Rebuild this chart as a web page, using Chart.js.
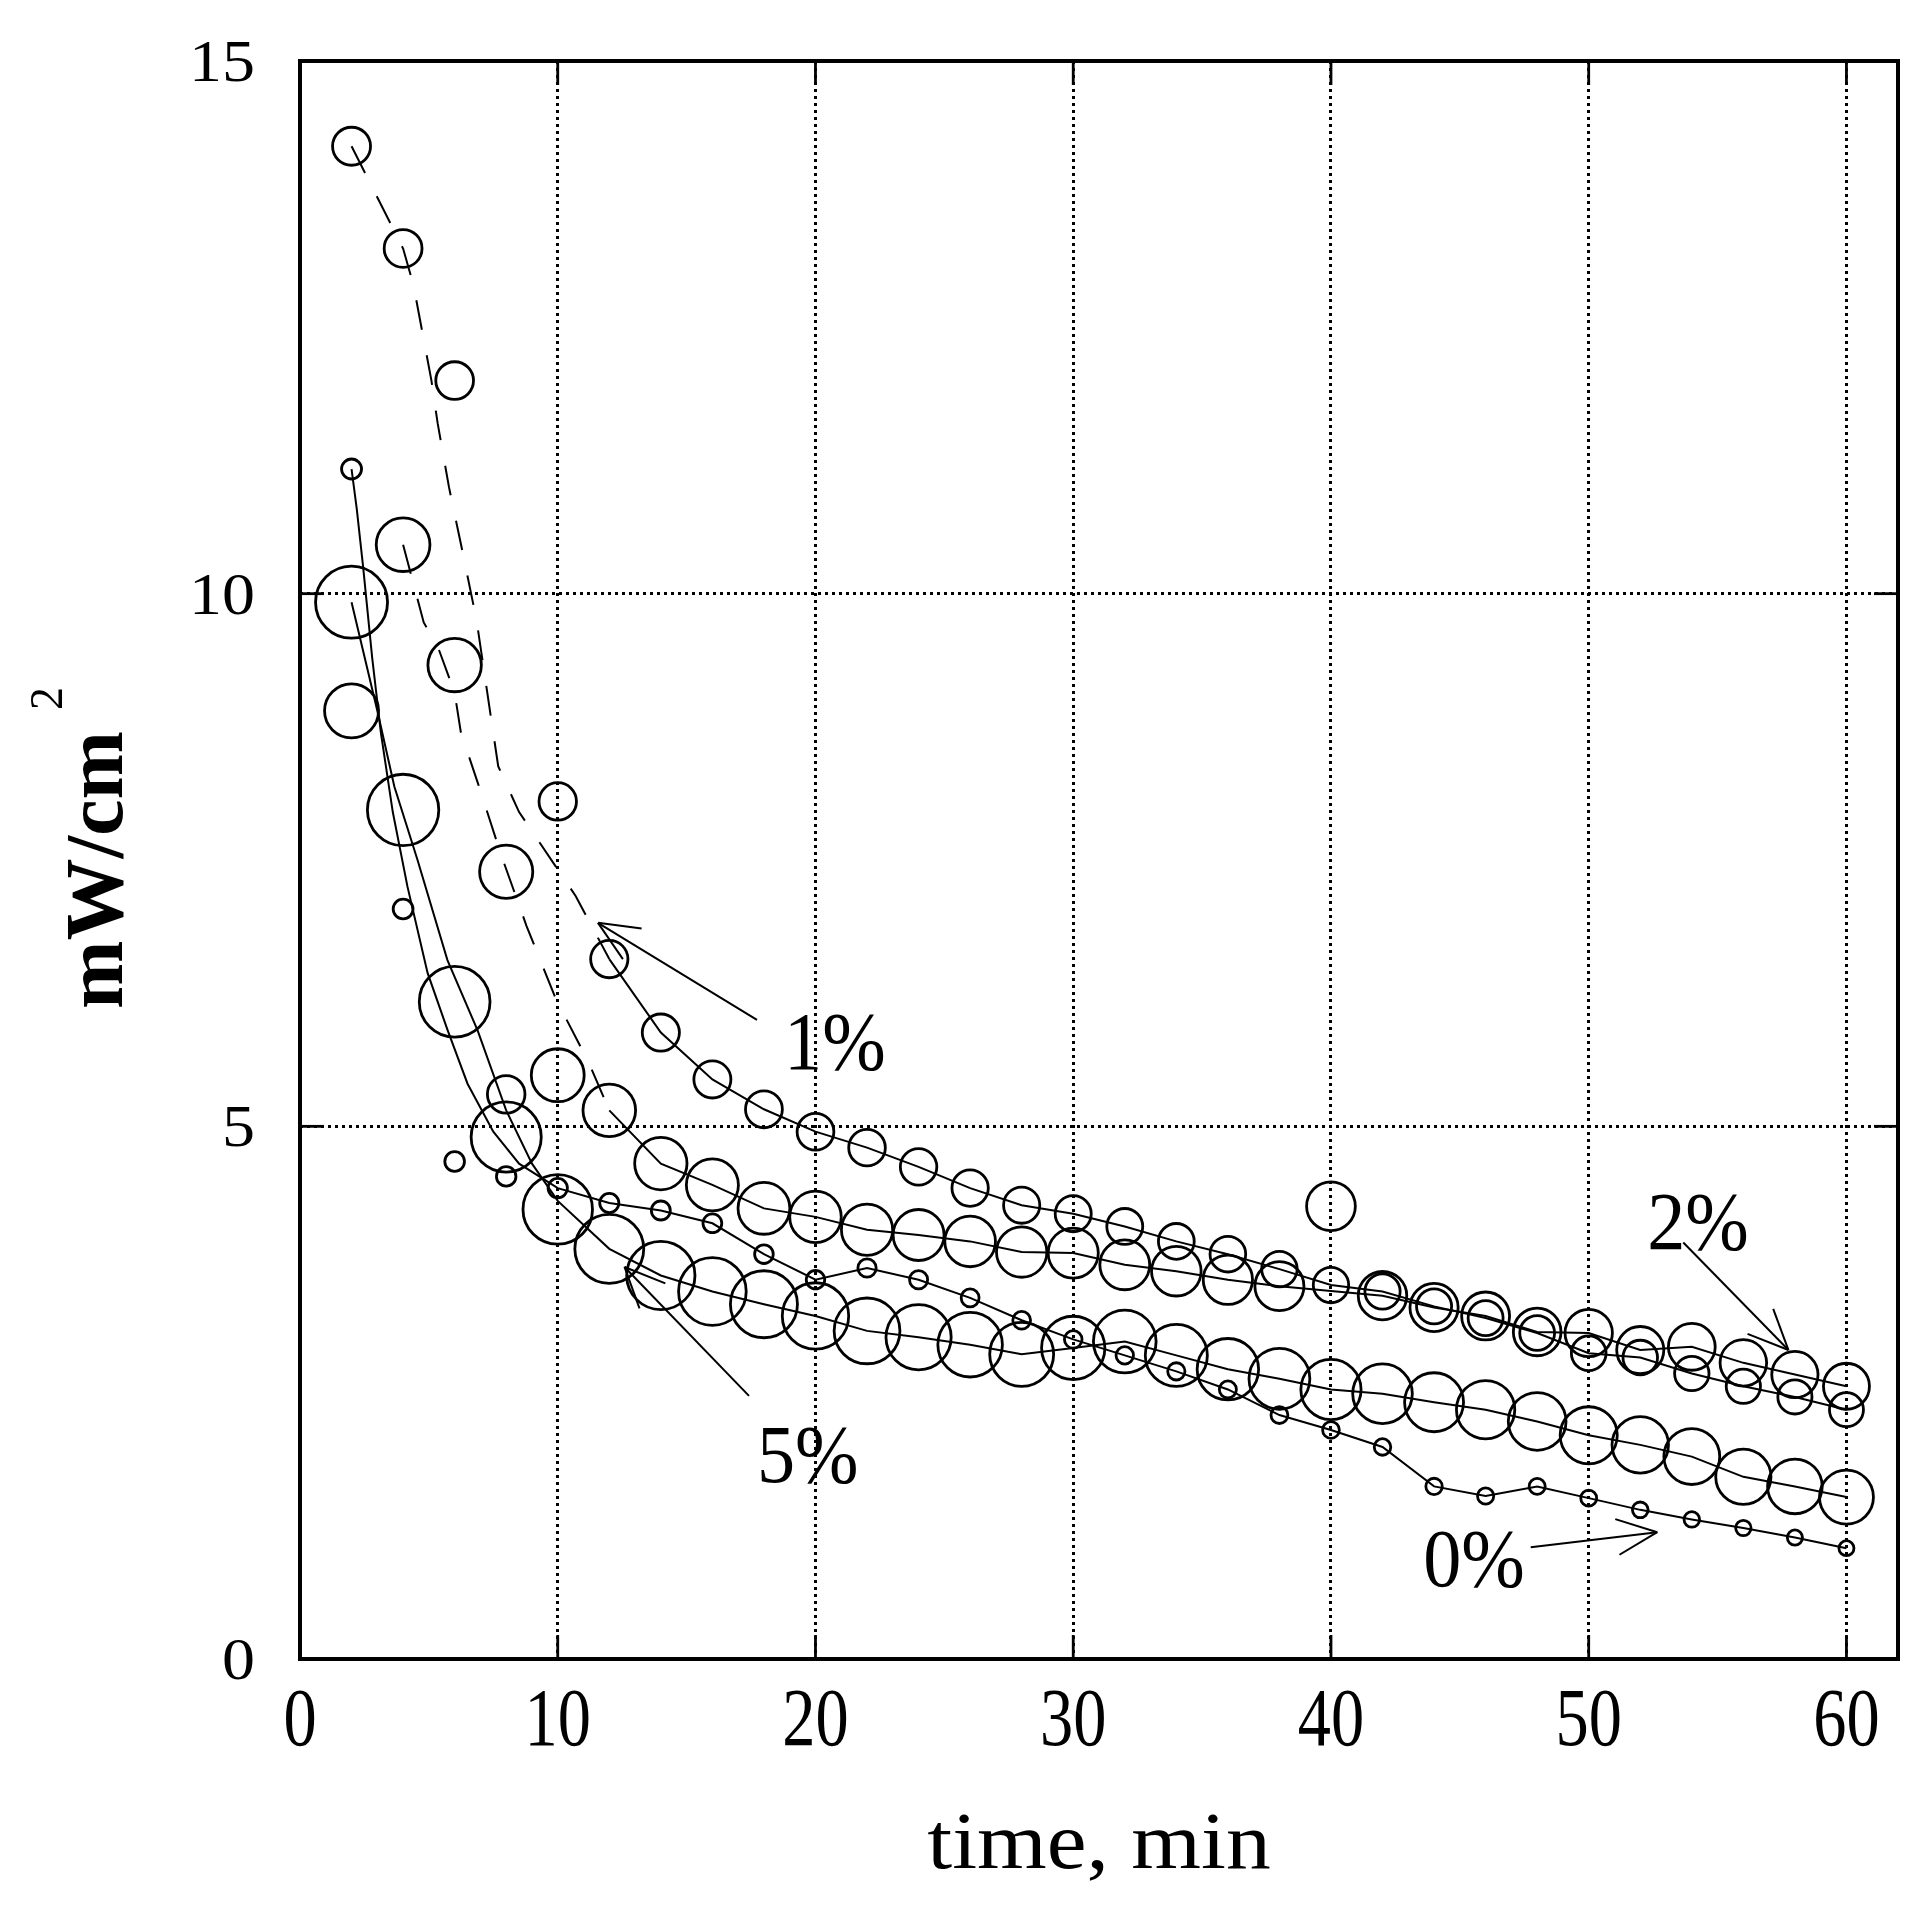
<!DOCTYPE html>
<html>
<head>
<meta charset="utf-8">
<script src="https://cdn.jsdelivr.net/npm/chart.js@4.4.0/dist/chart.umd.min.js"></script>
<style>
html,body{margin:0;padding:0;background:#fff;overflow:hidden;}
canvas{display:block;}
</style>
</head>
<body>
<canvas id="c" width="1920" height="1907"></canvas>
<script>
// ---------------- data ----------------
const time = [2,4,6,8,10,12,14,16,18,20,22,24,26,28,30,32,34,36,38,40,42,44,46,48,50,52,54,56,58,60];

// measured points, mW/cm^2
const pct0 = [11.17,7.04,4.67,4.53,4.42,4.28,4.21,4.09,3.80,3.56,3.67,3.56,3.39,3.18,3.00,2.85,2.70,2.53,2.29,2.15,1.99,1.62,1.53,1.62,1.51,1.40,1.31,1.23,1.14,1.04];
const pct1 = [14.20,13.24,12.00,5.30,8.05,6.57,5.88,5.44,5.16,4.95,4.80,4.62,4.42,4.26,4.18,4.06,3.92,3.80,3.66,3.51,3.45,3.31,3.20,3.06,2.87,2.83,2.68,2.56,2.46,2.34];
const pct2 = [8.90,10.46,9.33,7.39,5.48,5.15,4.65,4.45,4.23,4.15,4.03,3.98,3.92,3.82,3.81,3.70,3.64,3.56,3.50,4.25,3.41,3.30,3.22,3.07,3.06,2.90,2.93,2.78,2.67,2.56];
const pct5 = [9.92,7.97,6.17,4.90,4.22,3.85,3.60,3.45,3.33,3.22,3.08,3.02,2.95,2.86,2.92,2.98,2.85,2.72,2.63,2.53,2.49,2.41,2.34,2.23,2.10,2.01,1.90,1.71,1.62,1.52];

// curves drawn through the data (vertices)
const curve0X = [2,2.2,2.45,2.8,3.14,3.6,4.17,4.95,5.73,6.5,7.5,8.5,10,12,14,16,18,20,22,24,26,28,30,32,34,36,38,40,42,44,46,48,50,52,54,56,58,60];
const curve0Y = [11.17,10.8,10.25,9.4,8.69,7.95,7.25,6.44,5.9,5.4,4.95,4.65,4.42,4.28,4.21,4.09,3.80,3.56,3.67,3.56,3.39,3.18,3.00,2.85,2.70,2.53,2.29,2.15,1.99,1.62,1.53,1.62,1.51,1.40,1.31,1.23,1.14,1.04];

const curve1X = [2,4,4.4,5.1,5.34,5.78,6.3,6.85,7.69,8.5,10.7,12,14,16,18,20,22,24,26,28,30,32,34,36,38,40,42,44,46,48,50,52,54,56,58,60];
const curve1Y = [14.2,13.24,12.9,12.0,11.6,11.0,10.4,9.75,8.38,7.95,7.16,6.57,5.88,5.44,5.16,4.95,4.80,4.62,4.42,4.26,4.18,4.06,3.92,3.80,3.66,3.51,3.45,3.31,3.20,3.06,2.87,2.83,2.68,2.56,2.46,2.34];

const curve2X = [4,4.8,5.35,6.0,6.24,6.93,7.8,8.79,9.92,11.2,12,14,16,18,20,22,24,26,28,30,32,34,36,38,42,44,46,48,50,52,54,56,58,60];
const curve2Y = [10.46,9.73,9.5,9.07,8.7,8.2,7.55,6.88,6.2,5.6,5.15,4.65,4.45,4.23,4.15,4.03,3.98,3.92,3.82,3.81,3.70,3.64,3.56,3.50,3.41,3.30,3.22,3.07,3.06,2.90,2.93,2.78,2.67,2.56];

const curve5X = [2,3,3.66,4.56,5.72,6.89,8,9,10,12,14,16,18,20,22,24,26,28,30,32,34,36,38,40,42,44,46,48,50,52,54,56,58,60];
const curve5Y = [9.92,8.9,8.19,7.5,6.56,5.9,5.15,4.65,4.3,3.85,3.60,3.45,3.33,3.22,3.08,3.02,2.95,2.86,2.92,2.98,2.85,2.72,2.63,2.53,2.49,2.41,2.34,2.23,2.10,2.01,1.90,1.71,1.62,1.52];

// axes / labels
const xTickValues = [0,10,20,30,40,50,60];
const xTickLabels = ['0','10','20','30','40','50','60'];
const yTickValues = [0,5,10,15];
const yTickLabels = ['0','5','10','15'];
const xTitle = 'time, min';
const yTitle = 'mW/cm';
const yTitleSup = '2';
const seriesNames = ['0%','1%','2%','5%'];

// ---------------- styling / layout ----------------
const SERIF = '"Liberation Serif", "Times New Roman", serif';
const notes = [
  {text: seriesNames[1], tx: 18.78, ty: 5.54, ax0: 17.73, ay0: 6.00, ax1: 11.56, ay1: 6.91},
  {text: seriesNames[3], tx: 17.73, ty: 1.66, ax0: 17.42, ay0: 2.47, ax1: 12.59, ay1: 3.68},
  {text: seriesNames[0], tx: 43.58, ty: 0.685, ax0: 47.75, ay0: 1.05, ax1: 52.66, ay1: 1.19},
  {text: seriesNames[2], tx: 52.27, ty: 3.85, ax0: 53.67, ay0: 3.91, ax1: 57.75, ay1: 2.90}
];

function pts(xs, ys) { return xs.map((v, i) => ({x: v, y: ys[i]})); }

function markerSet(name, ys, r0, r1) {
  const rf = c => { const x = (c.raw && typeof c.raw.x === 'number') ? c.raw.x : 2; return r0 + (r1 - r0) * (x - 2) / 58; };
  return {
    label: name, data: pts(time, ys), showLine: false,
    pointStyle: 'circle', borderColor: '#000', backgroundColor: 'rgba(0,0,0,0)',
    pointBorderColor: '#000', pointBackgroundColor: 'rgba(0,0,0,0)',
    pointBorderWidth: 2.8, pointRadius: rf, pointHoverRadius: rf, order: 1
  };
}
function curveSet(name, xs, ys, dashUntil) {
  return {
    label: name, data: pts(xs, ys), showLine: true, pointRadius: 0, pointHoverRadius: 0,
    borderColor: '#000', borderWidth: 2, fill: false, tension: 0, order: 2,
    segment: { borderDash: c => (c.p0.parsed.x < dashUntil ? [30, 26] : []) }
  };
}

function text(ctx, s, px, py, size, weight, sx, align, rot) {
  ctx.save();
  ctx.translate(px, py);
  if (rot) ctx.rotate(rot);
  ctx.scale(sx, 1);
  ctx.font = weight + ' ' + size + 'px ' + SERIF;
  ctx.textAlign = align;
  ctx.textBaseline = 'alphabetic';
  ctx.fillStyle = '#000';
  ctx.fillText(s, 0, 0);
  ctx.restore();
}
function seg(ctx, x0, y0, x1, y1) { ctx.beginPath(); ctx.moveTo(x0, y0); ctx.lineTo(x1, y1); ctx.stroke(); }

const overlay = {
  id: 'overlay',
  afterDraw(chart) {
    const ctx = chart.ctx, a = chart.chartArea, xs = chart.scales.x, ys = chart.scales.y;
    ctx.save();
    ctx.strokeStyle = '#000';
    ctx.setLineDash([]);
    // inward tick marks on all four sides
    const TL = 24;
    ctx.lineWidth = 2.8;
    xTickValues.forEach(v => {
      const p = xs.getPixelForValue(v);
      seg(ctx, p, a.bottom, p, a.bottom - TL);
      seg(ctx, p, a.top, p, a.top + TL);
    });
    yTickValues.forEach(v => {
      const p = ys.getPixelForValue(v);
      seg(ctx, a.left, p, a.left + TL, p);
      seg(ctx, a.right, p, a.right - TL, p);
    });
    // frame
    ctx.lineWidth = 4;
    ctx.strokeRect(a.left, a.top, a.right - a.left, a.bottom - a.top);

    // tick labels
    xTickValues.forEach((v, i) => text(ctx, xTickLabels[i], xs.getPixelForValue(v), a.bottom + 86, 83, 'normal', 0.8, 'center'));
    yTickValues.forEach((v, i) => text(ctx, yTickLabels[i], a.left - 45, ys.getPixelForValue(v) + 20, 60, 'normal', 1.1, 'right'));

    // axis titles
    text(ctx, xTitle, (a.left + a.right) / 2, a.bottom + 209, 80, 'normal', 1.12, 'center');
    const ymid = (a.top + a.bottom) / 2;
    text(ctx, yTitle, 122, ymid + 10, 82, 'bold', 1.0, 'center', -Math.PI / 2);
    text(ctx, yTitleSup, 62, ymid - 150, 46, 'normal', 1.0, 'left', -Math.PI / 2);

    // annotations with arrows
    ctx.lineWidth = 2;
    notes.forEach(n => {
      text(ctx, n.text, xs.getPixelForValue(n.tx), ys.getPixelForValue(n.ty), 82, 'normal', 0.93, 'left');
      const x0 = xs.getPixelForValue(n.ax0), y0 = ys.getPixelForValue(n.ay0);
      const x1 = xs.getPixelForValue(n.ax1), y1 = ys.getPixelForValue(n.ay1);
      seg(ctx, x0, y0, x1, y1);
      const ang = Math.atan2(y0 - y1, x0 - x1), L = 44, h = 0.42;
      seg(ctx, x1, y1, x1 + L * Math.cos(ang + h), y1 + L * Math.sin(ang + h));
      seg(ctx, x1, y1, x1 + L * Math.cos(ang - h), y1 + L * Math.sin(ang - h));
    });
    ctx.restore();
  }
};

new Chart(document.getElementById('c'), {
  type: 'scatter',
  data: {
    datasets: [
      curveSet('0% curve', curve0X, curve0Y, -1),
      curveSet('1% curve', curve1X, curve1Y, 11.9),
      curveSet('2% curve', curve2X, curve2Y, 11.9),
      curveSet('5% curve', curve5X, curve5Y, -1),
      markerSet(seriesNames[0], pct0, 10, 7.5),
      markerSet(seriesNames[1], pct1, 19, 17),
      markerSet(seriesNames[2], pct2, 27, 23),
      markerSet(seriesNames[3], pct5, 36, 27)
    ]
  },
  options: {
    responsive: false,
    animation: false,
    devicePixelRatio: 1,
    layout: { autoPadding: false, padding: { left: 300, top: 61, right: 22, bottom: 248 } },
    plugins: { legend: { display: false }, tooltip: { enabled: false } },
    scales: {
      x: {
        type: 'linear', min: 0, max: 62,
        border: { display: false, dash: [3, 4] },
        grid: { drawTicks: false, lineWidth: 3, color: c => (c.tick && c.tick.value === 0 ? 'rgba(0,0,0,0)' : '#000') },
        ticks: { display: false, stepSize: 10, includeBounds: false }
      },
      y: {
        type: 'linear', min: 0, max: 15,
        border: { display: false, dash: [3, 4] },
        grid: { drawTicks: false, lineWidth: 3, color: c => (c.tick && (c.tick.value === 0 || c.tick.value === 15) ? 'rgba(0,0,0,0)' : '#000') },
        ticks: { display: false, stepSize: 5, includeBounds: false }
      }
    }
  },
  plugins: [overlay]
});
</script>
</body>
</html>
